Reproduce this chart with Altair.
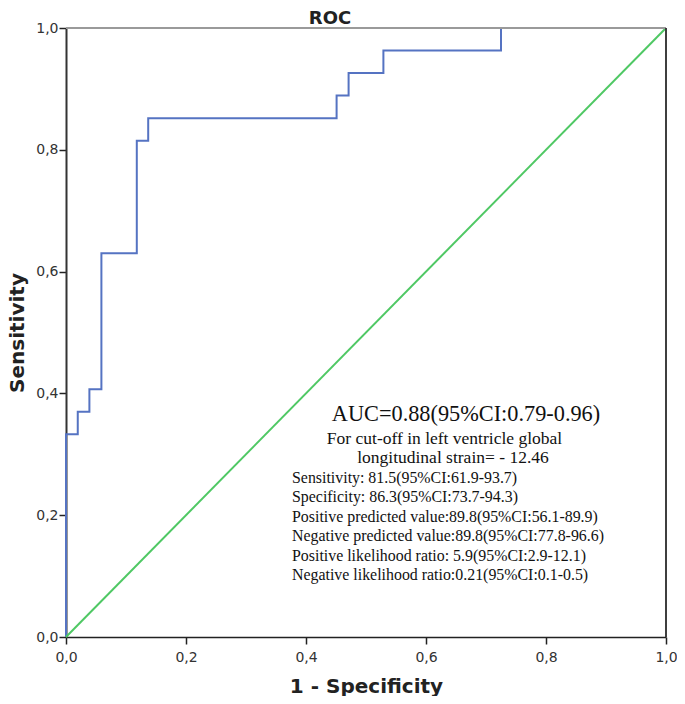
import altair as alt
import pandas as pd

# ---- data ----
fpr = [0.0, 0.0, 0.0196, 0.039, 0.059, 0.118, 0.137, 0.451, 0.471, 0.529, 0.725, 1.0]
tpr = [0.0, 0.333, 0.370, 0.407, 0.630, 0.815, 0.852, 0.889, 0.926, 0.963, 1.0, 1.0]
ref_x = [0.0, 1.0]
ref_y = [0.0, 1.0]
tick_values = [0.0, 0.2, 0.4, 0.6, 0.8, 1.0]

chart_title = "ROC"
x_title = "1 - Specificity"
y_title = "Sensitivity"
auc_text = "AUC=0.88(95%CI:0.79-0.96)"
cutoff_line1 = "For cut-off in left ventricle global"
cutoff_line2 = "longitudinal strain= - 12.46"
stat_lines = [
    "Sensitivity: 81.5(95%CI:61.9-93.7)",
    "Specificity: 86.3(95%CI:73.7-94.3)",
    "Positive predicted value:89.8(95%CI:56.1-89.9)",
    "Negative predicted value:89.8(95%CI:77.8-96.6)",
    "Positive likelihood ratio: 5.9(95%CI:2.9-12.1)",
    "Negative likelihood ratio:0.21(95%CI:0.1-0.5)",
]

# ---- layout ----
W, H = 600, 609
LEFT = 58
DX = 69 - (8 + LEFT)   # keep annotations at their page positions
ROC_BLUE = "#5573c2"
GREEN = "#4fc864"
SERIF = "Liberation Serif"
SANS = "DejaVu Sans"

roc_df = pd.DataFrame({"fpr": fpr, "tpr": tpr, "order": list(range(len(fpr)))})
ref_df = pd.DataFrame({"fpr": ref_x, "tpr": ref_y})
stats_df = pd.DataFrame({"t": stat_lines, "i": list(range(len(stat_lines)))})

label_expr = "replace(format(datum.value, '.1f'), '.', ',')"

xscale = alt.Scale(domain=[0, 1], nice=False)
yscale = alt.Scale(domain=[0, 1], nice=False)

xaxis = alt.Axis(
    values=tick_values, labelExpr=label_expr, title=x_title, grid=False,
    labelFlush=False, labelOverlap=False,
    tickSize=7, tickWidth=1.5, domainColor="#222", domainWidth=1.5, tickColor="#222",
    labelFont=SANS, labelFontSize=14, labelColor="#333", labelPadding=6,
    titleFont=SANS, titleFontSize=20, titleFontWeight="bold", titleColor="#222",
    titlePadding=12,
)
yaxis = alt.Axis(
    values=tick_values, labelExpr=label_expr, title=y_title, grid=False,
    labelFlush=False, labelOverlap=False,
    tickSize=7, tickWidth=1.5, domainColor="#333", domainWidth=2, tickColor="#222",
    labelFont=SANS, labelFontSize=14, labelColor="#333", labelPadding=1,
    titleFont=SANS, titleFontSize=20, titleFontWeight="bold", titleColor="#222",
    titlePadding=8,
)

roc_line = alt.Chart(roc_df).mark_line(
    color=ROC_BLUE, strokeWidth=2, interpolate="step-after"
).encode(
    x=alt.X("fpr:Q", scale=xscale, axis=xaxis),
    y=alt.Y("tpr:Q", scale=yscale, axis=yaxis),
    order="order:Q",
)

ref_line = alt.Chart(ref_df).mark_line(color=GREEN, strokeWidth=2).encode(
    x=alt.X("fpr:Q", scale=xscale, axis=xaxis),
    y=alt.Y("tpr:Q", scale=yscale, axis=yaxis),
)

top_border = alt.Chart(ref_df).mark_rule(color="#9a9a9a", strokeWidth=2).encode(
    x=alt.value(0), x2=alt.value(W), y=alt.value(0)
)
right_border = alt.Chart(ref_df).mark_rule(color="#333", strokeWidth=1.5).encode(
    x=alt.value(W), y=alt.value(0), y2=alt.value(H)
)

title_mark = alt.Chart(ref_df.head(1)).mark_text(
    font=SANS, fontSize=18, fontWeight="bold", color="#222",
    align="center", baseline="alphabetic",
).encode(text=alt.value(chart_title), x=alt.value(261 + DX), y=alt.value(-4))

auc_mark = alt.Chart(ref_df.head(1)).mark_text(
    font=SERIF, fontSize=22.3, color="#111", align="center", baseline="alphabetic",
).encode(text=alt.value(auc_text), x=alt.value(397 + DX), y=alt.value(393))

cut1_mark = alt.Chart(ref_df.head(1)).mark_text(
    font=SERIF, fontSize=17.5, color="#111", align="center", baseline="alphabetic",
).encode(text=alt.value(cutoff_line1), x=alt.value(375.5 + DX), y=alt.value(416))

cut2_mark = alt.Chart(ref_df.head(1)).mark_text(
    font=SERIF, fontSize=17.5, color="#111", align="center", baseline="alphabetic",
).encode(text=alt.value(cutoff_line2), x=alt.value(384 + DX), y=alt.value(435))

stats_mark = alt.Chart(stats_df).transform_calculate(
    py="455 + datum.i * 19.4"
).mark_text(
    font=SERIF, fontSize=15.9, color="#111", align="left", baseline="alphabetic",
).encode(
    text="t:N", x=alt.value(223 + DX), y=alt.Y("py:Q", scale=None, axis=None)
)

chart = alt.layer(
    roc_line, ref_line, top_border, right_border,
    title_mark, auc_mark, cut1_mark, cut2_mark, stats_mark,
).properties(
    width=W, height=H,
    autosize=alt.AutoSizeParams(type="none"),
    padding={"left": LEFT, "top": 20, "right": 11, "bottom": 59},
    background="white",
).configure_view(stroke=None)

chart.save("out.html", embed_options={"renderer": "svg", "actions": False})
